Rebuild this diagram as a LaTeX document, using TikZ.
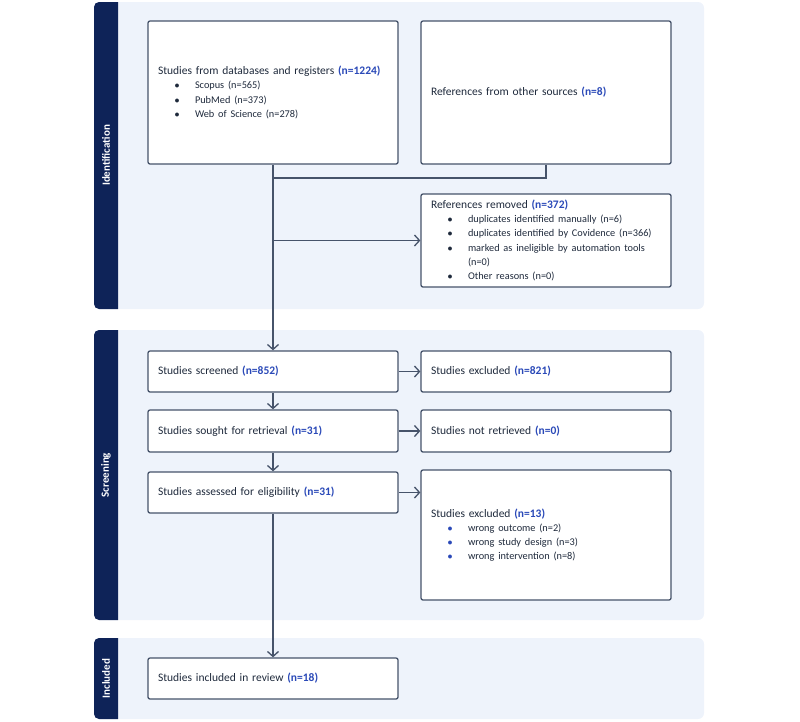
\documentclass[tikz,border=0pt]{standalone}
\usepackage{fontspec}
\setmainfont{Carlito}
\usetikzlibrary{arrows.meta}
\definecolor{navy}{HTML}{0E2358}
\definecolor{panel}{HTML}{EEF3FB}
\definecolor{edge}{HTML}{46536A}
\definecolor{nblue}{HTML}{2A49B8}
\definecolor{ink}{HTML}{1F2A3C}
\newcommand{\nn}[1]{\textcolor{nblue}{\bfseries #1}}
\newcommand{\itm}[1]{\hspace*{16.5pt}\makebox[20.5pt][l]{$\bullet$}#1}
\newcommand{\bitm}[1]{\hspace*{16.5pt}\makebox[20.5pt][l]{\textcolor{nblue}{$\bullet$}}#1}
\newcommand{\bigtxt}{\fontsize{11.5}{14.2}\selectfont}
\newcommand{\smltxt}{\fontsize{10.3}{14.2}\selectfont}
\begin{document}
\begin{tikzpicture}[x=1pt,y=-1pt,
  box/.style={draw=edge,line width=1.3pt,fill=white,rounded corners=2pt,
    minimum width=250pt,text width=230pt,inner xsep=10pt,inner ysep=0pt,
    align=left,font=\bigtxt,text=ink},
  line/.style={draw=edge,line width=1.4pt},
  arr/.style={line,-{Straight Barb[length=5pt,width=11pt,line width=1.3pt]}},
  stage/.style={text=white,font=\fontsize{11}{13}\selectfont\bfseries,rotate=90}]
\useasboundingbox (0,0) rectangle (800,721);
% panels
\fill[panel,rounded corners=6pt] (94,2) rectangle (704,309);
\fill[panel,rounded corners=6pt] (94,330) rectangle (704,620);
\fill[panel,rounded corners=6pt] (94,638) rectangle (704,719);
\fill[navy] (118,2) [rounded corners=5pt] -- (94,2) -- (94,309) [sharp corners] -- (118,309) -- cycle;
\fill[navy] (118,330) [rounded corners=5pt] -- (94,330) -- (94,620) [sharp corners] -- (118,620) -- cycle;
\fill[navy] (118,638) [rounded corners=5pt] -- (94,638) -- (94,719) [sharp corners] -- (118,719) -- cycle;
\node[stage] (lid) at (106,155.5) {Identification};
\node[stage] (lsc) at (106,475) {Screening};
\node[stage] (lin) at (106,678.5) {Included};
% boxes
\node[box,minimum height=143pt] (db) at (273,92.5) {Studies from databases and registers \nn{(n=1224)}\\
\smltxt\itm{Scopus (n=565)}\\
\smltxt\itm{PubMed (n=373)}\\
\smltxt\itm{Web of Science (n=278)}};
\node[box,minimum height=143pt] (oth) at (546,92.5) {References from other sources \nn{(n=8)}};
\node[box,minimum height=93pt] (rem) at (546,240.5) {References removed \nn{(n=372)}\\
\smltxt\itm{duplicates identified manually (n=6)}\\
\smltxt\itm{duplicates identified by Covidence (n=366)}\\
\smltxt\itm{marked as ineligible by automation tools}\\
\smltxt\hspace*{37pt}(n=0)\\
\smltxt\itm{Other reasons (n=0)}};
\node[box,minimum height=41pt] (scr) at (273,371.5) {Studies screened \nn{(n=852)}};
\node[box,minimum height=42pt] (sou) at (273,431) {Studies sought for retrieval \nn{(n=31)}};
\node[box,minimum height=41pt] (ass) at (273,492.5) {Studies assessed for eligibility \nn{(n=31)}};
\node[box,minimum height=41pt] (ex1) at (546,371.5) {Studies excluded \nn{(n=821)}};
\node[box,minimum height=42pt] (nr) at (546,431) {Studies not retrieved \nn{(n=0)}};
\node[box,minimum height=130pt] (ex2) at (546,535) {Studies excluded \nn{(n=13)}\\
\smltxt\bitm{wrong outcome (n=2)}\\
\smltxt\bitm{wrong study design (n=3)}\\
\smltxt\bitm{wrong intervention (n=8)}};
\node[box,minimum height=41pt] (inc) at (273,678.5) {Studies included in review \nn{(n=18)}};
% connectors
\coordinate (j) at (273,178);
\draw[line] (oth.south) |- (j);
\draw[arr] (db.south) -- (scr.north);
\draw[arr] (db.south |- rem.west) -- (rem.west);
\draw[arr] (scr.south) -- (sou.north);
\draw[arr] (sou.south) -- (ass.north);
\draw[arr] (ass.south) -- (inc.north);
\draw[arr] (scr.east) -- (ex1.west);
\draw[arr] (sou.east) -- (nr.west);
\draw[arr] (ass.east) -- (ass.east -| ex2.west);
\end{tikzpicture}
\end{document}
